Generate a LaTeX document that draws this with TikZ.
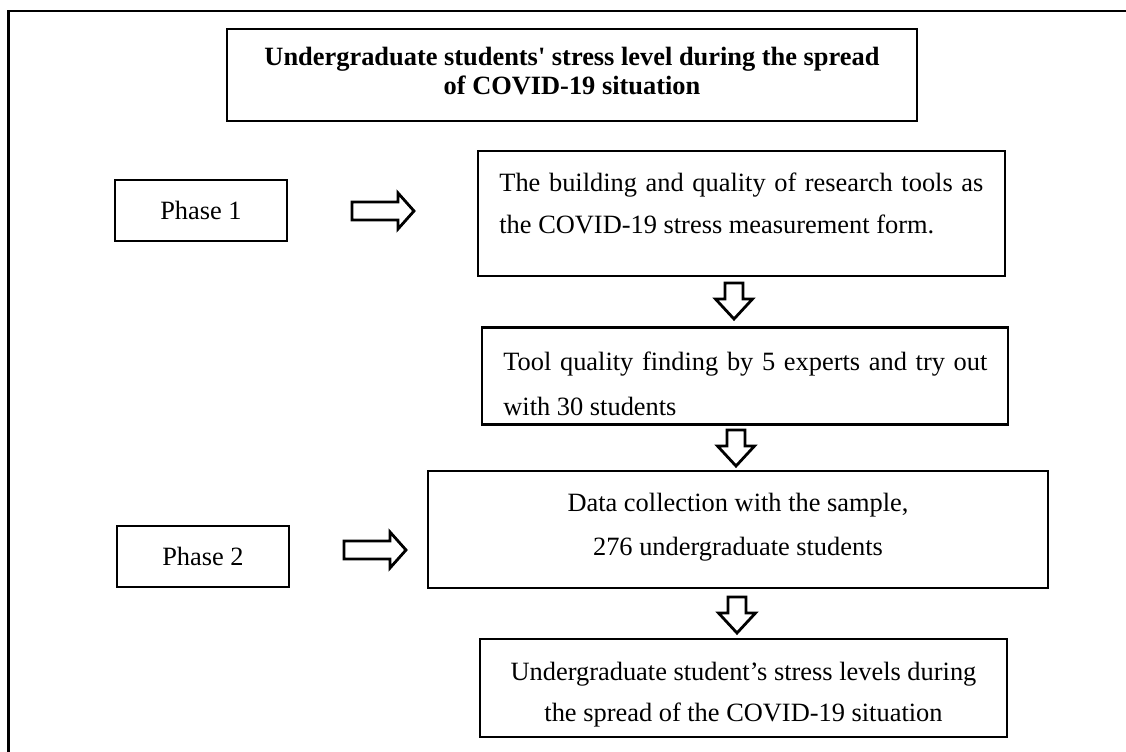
\documentclass[tikz,border=0pt]{standalone}
\usepackage{fontspec}
\setmainfont{Liberation Serif}
\tikzset{
  box/.style={draw,line width=1.1pt,inner sep=0pt},
  txt/.style={inner sep=0pt,font=\fontsize{13.2}{16}\selectfont},
  bold/.style={txt,font=\fontsize{13.2}{16}\selectfont\bfseries},
  blk/.style={draw,line width=1.4pt,line join=miter,fill=white}
}

\begin{document}
\begin{tikzpicture}[x=0.5pt,y=-0.5pt]
            \useasboundingbox (0,0) rectangle (1126,751);
            \draw[line width=1.4pt] (8.5,760) |- (1135,11);

            \node[box,minimum width=345pt,minimum height=46pt] (title) at (572,75) {};
            \node[bold,anchor=base] (title-1) at (572,65) {Undergraduate students\textquotesingle{} stress level during the spread};
            \node[bold,anchor=base] (title-2) at (572,94) {of COVID-19 situation};

            \node[box,txt,minimum width=86pt,minimum height=30.5pt] (phase1) at (201,210.5) {Phase 1};
            \node[box,txt,minimum width=86pt,minimum height=30.5pt] (phase2) at (203,556.5) {Phase 2};

            \node[box,minimum width=263.5pt,minimum height=62.5pt] (tools) at (741.5,213.5) {};
            \node[txt,anchor=base west] (tools-1) at (499,191) {\makebox[242pt][s]{The building and quality of research tools as}};
            \node[txt,anchor=base west] (tools-2) at (499,233) {the COVID-19 stress measurement form.};

            \node[box,minimum width=263pt,minimum height=48.5pt] (quality) at (745,376) {};
            \node[txt,anchor=base west] (quality-1) at (503,370) {\makebox[242pt][s]{Tool quality finding by 5 experts and try out}};
            \node[txt,anchor=base west] (quality-2) at (503,415) {with 30 students};

            \node[box,minimum width=310pt,minimum height=58.5pt] (collect) at (738,529.5) {};
            \node[txt,anchor=base] (collect-1) at (738,511) {Data collection with the sample,};
            \node[txt,anchor=base] (collect-2) at (738,555) {276 undergraduate students};

            \node[box,minimum width=263.5pt,minimum height=49pt] (levels) at (743.5,688) {};
            \node[txt,anchor=base] (levels-1) at (743.5,680) {Undergraduate student’s stress levels during};
            \node[txt,anchor=base] (levels-2) at (743.5,721) {the spread of the COVID-19 situation};

            \foreach \x/\y [count=\i] in {352/211,344/550}{
                \coordinate (r\i) at (\x,\y);
                \draw[blk] (r\i) ++(0,-9) -- ++(46,0) -- ++(0,-9) -- ++(16,18) -- ++(-16,18) -- ++(0,-9) -- ++(-46,0) -- cycle;
            }
            \foreach \x/\y [count=\i] in {734/283,736/430,737/597}{
                \coordinate (d\i) at (\x,\y);
                \draw[blk] (d\i) ++(-9,0) -- ++(18,0) -- ++(0,16) -- ++(9.5,0) -- ++(-18.5,20) -- ++(-18.5,-20) -- ++(9.5,0) -- cycle;
            }
        \end{tikzpicture}
\end{document}
